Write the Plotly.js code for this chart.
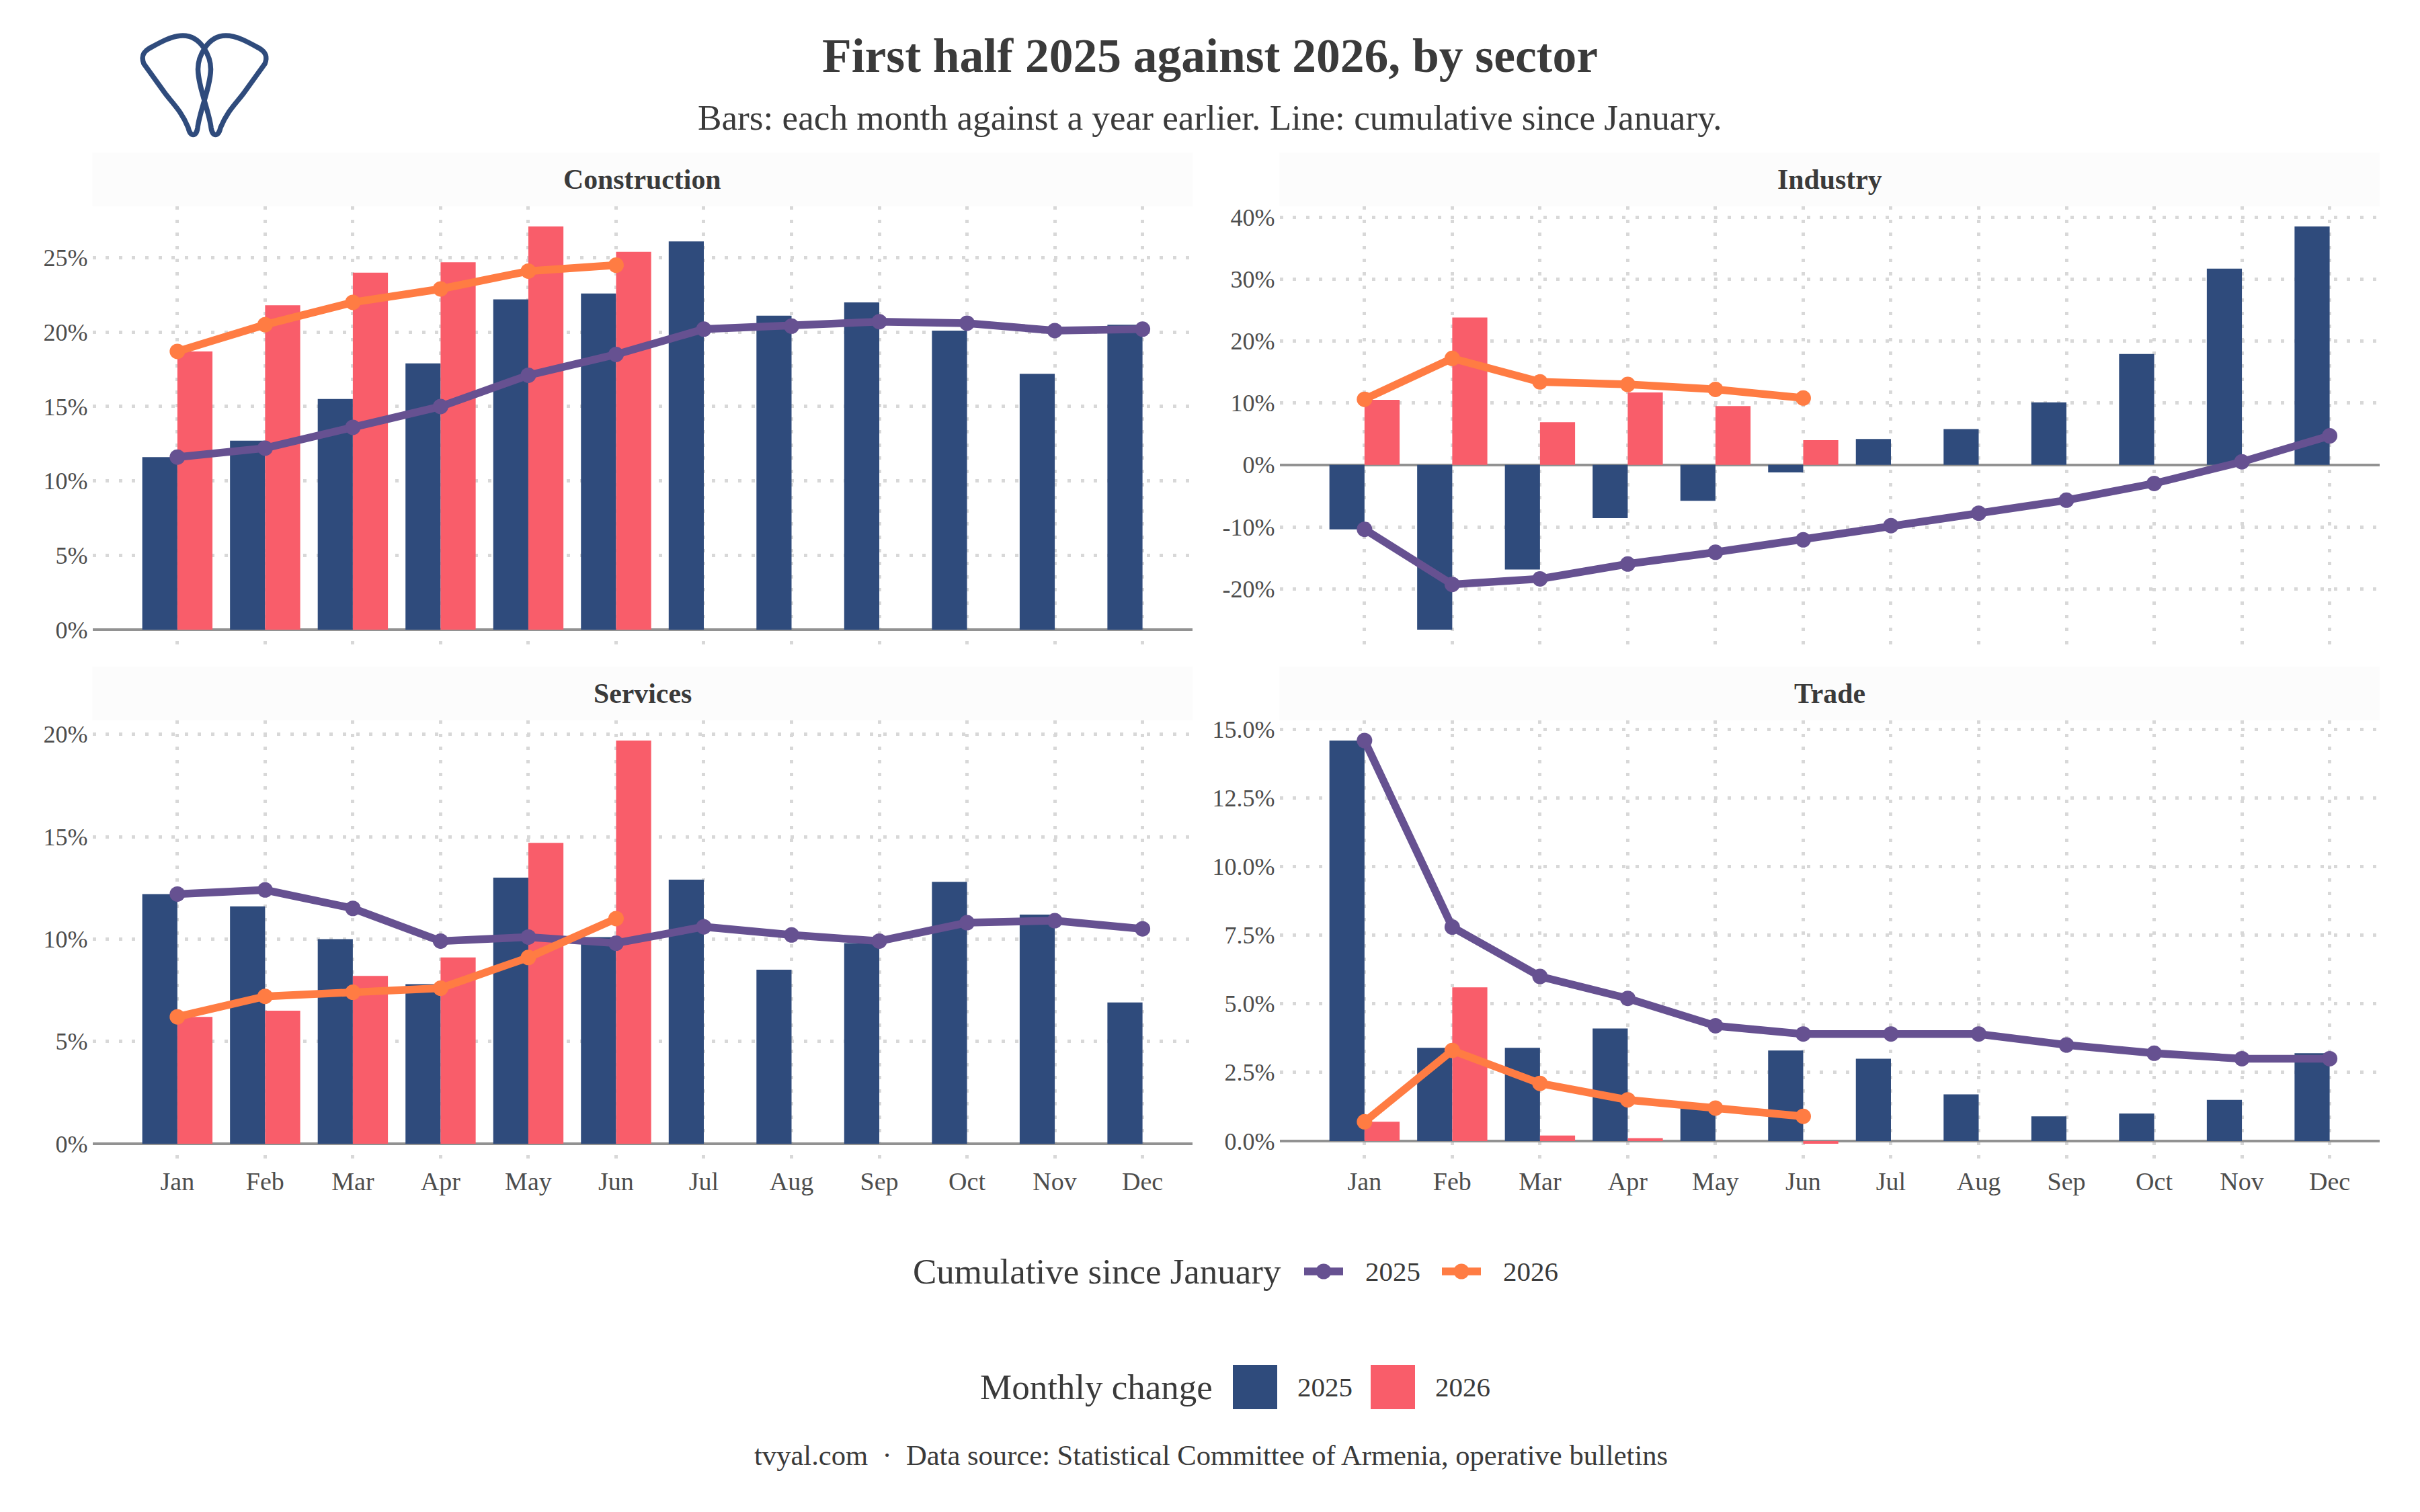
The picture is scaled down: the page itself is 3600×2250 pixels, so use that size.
<!DOCTYPE html>
<html>
<head>
<meta charset="utf-8">
<script src="https://cdn.plot.ly/plotly-3.0.1.min.js"></script>
<style>html,body{margin:0;padding:0;background:#fff}#chart{width:3600px;height:2250px}</style>
</head>
<body>
<div id="chart"></div>
<script>
const months = ['Jan','Feb','Mar','Apr','May','Jun','Jul','Aug','Sep','Oct','Nov','Dec'];

const constructionBars2025 = [11.6,12.7,15.5,17.9,22.2,22.6,26.1,21.1,22.0,20.1,17.2,20.5];
const constructionBars2026 = [18.7,21.8,24.0,24.7,27.1,25.4];
const constructionCum2025  = [11.6,12.2,13.6,15.0,17.1,18.5,20.2,20.4,20.7,20.6,20.1,20.2];
const constructionCum2026  = [18.7,20.5,22.0,22.9,24.1,24.5];

const industryBars2025 = [-10.4,-26.6,-16.9,-8.6,-5.8,-1.2,4.2,5.8,10.1,17.9,31.7,38.5];
const industryBars2026 = [10.5,23.8,6.9,11.7,9.5,4.0];
const industryCum2025  = [-10.4,-19.3,-18.4,-16.0,-14.1,-12.1,-9.8,-7.8,-5.7,-3.0,0.5,4.7];
const industryCum2026  = [10.6,17.2,13.4,13.0,12.2,10.8];

const servicesBars2025 = [12.2,11.6,10.0,7.8,13.0,10.1,12.9,8.5,9.8,12.8,11.2,6.9];
const servicesBars2026 = [6.2,6.5,8.2,9.1,14.7,19.7];
const servicesCum2025  = [12.2,12.4,11.5,9.9,10.1,9.8,10.6,10.2,9.9,10.8,10.9,10.5];
const servicesCum2026  = [6.2,7.2,7.4,7.6,9.1,11.0];

const tradeBars2025 = [14.6,3.4,3.4,4.1,1.3,3.3,3.0,1.7,0.9,1.0,1.5,3.2];
const tradeBars2026 = [0.7,5.6,0.2,0.1,0.0,-0.1];
const tradeCum2025  = [14.6,7.8,6.0,5.2,4.2,3.9,3.9,3.9,3.5,3.2,3.0,3.0];
const tradeCum2026  = [0.7,3.3,2.1,1.5,1.2,0.9];

const constructionTicks = [0,5,10,15,20,25];
const constructionLabels = ['0%','5%','10%','15%','20%','25%'];
const industryTicks = [-20,-10,0,10,20,30,40];
const industryLabels = ['-20%','-10%','0%','10%','20%','30%','40%'];
const servicesTicks = [0,5,10,15,20];
const servicesLabels = ['0%','5%','10%','15%','20%'];
const tradeTicks = [0,2.5,5,7.5,10,12.5,15];
const tradeLabels = ['0.0%','2.5%','5.0%','7.5%','10.0%','12.5%','15.0%'];

const NAVY='#2f4b7c', PINK='#f95d6a', ORANGE='#ff7c43', PURPLE='#665191';
const FONT='"Liberation Serif", serif';
const W=3600, H=2250;
const fx=p=>p/W, fy=p=>1-p/H;

const panels=[
  {name:'Construction',b25:constructionBars2025,b26:constructionBars2026,c25:constructionCum2025,c26:constructionCum2026,
   ticks:constructionTicks,labels:constructionLabels,range:[-1.355,28.455],x:[137.5,1774],y:[307,967],s:[227,307],labelsX:false},
  {name:'Industry',b25:industryBars2025,b26:industryBars2026,c25:industryCum2025,c26:industryCum2026,
   ticks:industryTicks,labels:industryLabels,range:[-29.855,41.755],x:[1903.5,3540],y:[307,967],s:[227,307],labelsX:false},
  {name:'Services',b25:servicesBars2025,b26:servicesBars2026,c25:servicesCum2025,c26:servicesCum2026,
   ticks:servicesTicks,labels:servicesLabels,range:[-0.985,20.685],x:[137.5,1774],y:[1072,1732],s:[992,1072],labelsX:true},
  {name:'Trade',b25:tradeBars2025,b26:tradeBars2026,c25:tradeCum2025,c26:tradeCum2026,
   ticks:tradeTicks,labels:tradeLabels,range:[-0.835,15.335],x:[1903.5,3540],y:[1072,1732],s:[992,1072],labelsX:true}
];

const traces=[], shapes=[], annotations=[];
const layout={
  width:W,height:H,margin:{l:0,r:0,t:0,b:0},paper_bgcolor:'#fff',plot_bgcolor:'#fff',
  barmode:'group',bargap:0.2,bargroupgap:0,showlegend:false,font:{family:FONT,color:'#4d4d4d'},
  title:{text:'First half 2025 against 2026, by sector',x:0.5,xanchor:'center',xref:'paper',y:fy(82),yanchor:'middle',yref:'paper',
         font:{family:FONT,size:71.5,color:'#3a3a3a',weight:'bold'}}
};

panels.forEach((p,i)=>{
  const n=i+1, sx=n===1?'':n, xa='x'+sx, ya='y'+sx;
  const common={xaxis:xa,yaxis:ya,hoverinfo:'skip',showlegend:false};
  traces.push({type:'bar',name:'Monthly change 2025',x:months,y:p.b25,marker:{color:NAVY,line:{width:0}},...common});
  traces.push({type:'bar',name:'Monthly change 2026',x:months.slice(0,p.b26.length),y:p.b26,marker:{color:PINK,line:{width:0}},...common});
  traces.push({type:'scatter',mode:'lines+markers',name:'Cumulative 2025',x:months,y:p.c25,
    line:{color:PURPLE,width:11.5},marker:{color:PURPLE,size:23},cliponaxis:false,...common});
  traces.push({type:'scatter',mode:'lines+markers',name:'Cumulative 2026',x:months.slice(0,p.c26.length),y:p.c26,
    line:{color:ORANGE,width:11.5},marker:{color:ORANGE,size:23},cliponaxis:false,...common});

  layout['xaxis'+sx]={domain:[fx(p.x[0]),fx(p.x[1])],anchor:ya,type:'category',categoryorder:'array',categoryarray:months,
    range:[-0.968,11.57],tickmode:'array',tickvals:months,ticktext:months,showticklabels:p.labelsX,ticks:'',
    tickfont:{family:FONT,size:38,color:'#4d4d4d'},showgrid:true,gridcolor:'#d8d8d8',gridwidth:5,griddash:'5px,14.6px',
    zeroline:false,showline:false,fixedrange:true};
  layout['yaxis'+sx]={domain:[fy(p.y[1]),fy(p.y[0])],anchor:xa,range:p.range,tickmode:'array',tickvals:p.ticks,ticktext:p.labels,
    ticks:'',ticklabelstandoff:6,tickfont:{family:FONT,size:36,color:'#4d4d4d'},showgrid:true,gridcolor:'#d8d8d8',gridwidth:5,griddash:'5px,14.6px',
    zeroline:true,zerolinecolor:'#929292',zerolinewidth:3.5,showline:false,fixedrange:true};

  shapes.push({type:'rect',xref:'paper',yref:'paper',x0:fx(p.x[0]),x1:fx(p.x[1]),y0:fy(p.s[1]),y1:fy(p.s[0]),
    fillcolor:'#fcfcfc',line:{width:0},layer:'below'});
  annotations.push({xref:'paper',yref:'paper',x:fx((p.x[0]+p.x[1])/2),y:fy((p.s[0]+p.s[1])/2),xanchor:'center',yanchor:'middle',
    showarrow:false,text:'<b>'+p.name+'</b>',font:{family:FONT,size:41.8,color:'#3a3a3a'}});
});

function note(text,x,y,size,anchor,color){
  annotations.push({xref:'paper',yref:'paper',x:fx(x),y:fy(y),xanchor:anchor,yanchor:'middle',showarrow:false,text,
    font:{family:FONT,size,color:color||'#3a3a3a'}});
}
note('Bars: each month against a year earlier. Line: cumulative since January.',1800,176,53.2,'center');
note('Cumulative since January',1908,1892,53,'right');
note('2025',2029,1892,41,'left');
note('2026',2234,1892,41,'left');
note('Monthly change',1806,2064,53,'right');
note('2025',1928,2064,41,'left');
note('2026',2133,2064,41,'left');
note('tvyal.com  ·  Data source: Statistical Committee of Armenia, operative bulletins',1801,2165,42.6,'center');

// legend keys
[[1940,1998,PURPLE],[2145,2203,ORANGE]].forEach(k=>{
  shapes.push({type:'line',xref:'paper',yref:'paper',x0:fx(k[0]),x1:fx(k[1]),y0:fy(1892),y1:fy(1892),line:{color:k[2],width:11.5}});
  const c=(k[0]+k[1])/2;
  shapes.push({type:'circle',xref:'paper',yref:'paper',x0:fx(c-11.5),x1:fx(c+11.5),y0:fy(1903.5),y1:fy(1880.5),fillcolor:k[2],line:{width:0}});
});
[[1834,1900,NAVY],[2039,2105,PINK]].forEach(k=>{
  shapes.push({type:'rect',xref:'paper',yref:'paper',x0:fx(k[0]),x1:fx(k[1]),y0:fy(2097),y1:fy(2031),fillcolor:k[2],line:{width:0}});
});

// logo: two crossing petals
function petal(m){
  const P=(x,y)=>fx(m?608-x:x)+','+fy(y);
  return 'M'+P(272,53)+' C'+P(256,53)+' '+P(240,62)+' '+P(222,72)+' C'+P(212,78)+' '+P(210,85)+' '+P(214,95)+
    ' L'+P(245,138)+' C'+P(256,153)+' '+P(270,165)+' '+P(280,190)+
    ' C'+P(283,204)+' '+P(292,204)+' '+P(294,190)+
    ' C'+P(297,165)+' '+P(313,130)+' '+P(313.5,103)+' C'+P(313.5,85)+' '+P(300,53)+' '+P(272,53)+' Z';
}
[false,true].forEach(m=>shapes.push({type:'path',xref:'paper',yref:'paper',path:petal(m),line:{color:NAVY,width:7.5},fillcolor:'rgba(0,0,0,0)'}));

layout.shapes=shapes; layout.annotations=annotations;
Plotly.newPlot('chart',traces,layout,{displayModeBar:false,staticPlot:true});
</script>
</body>
</html>
